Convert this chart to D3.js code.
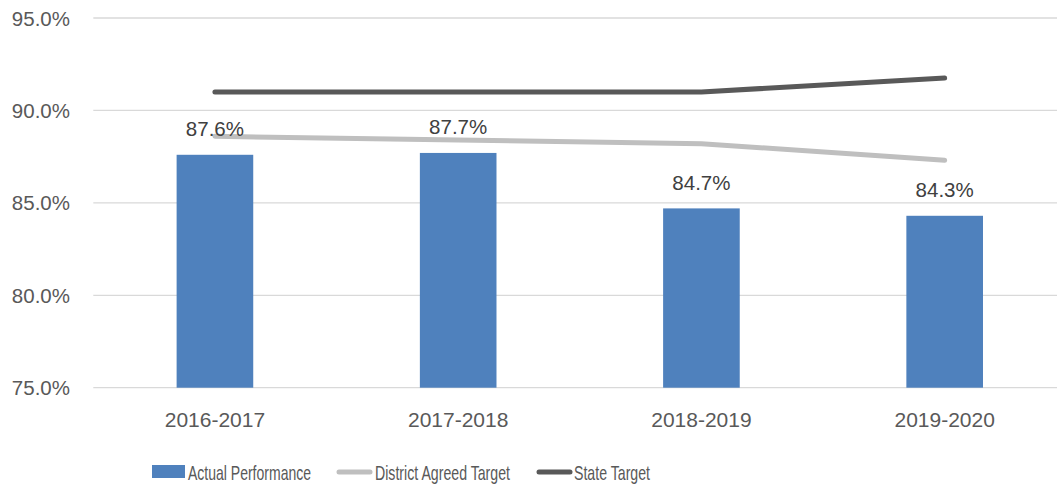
<!DOCTYPE html>
<html lang="en">
<head>
  <meta charset="UTF-8">
  <title>Performance vs Targets</title>
  <script src="https://d3js.org/d3.v7.min.js"></script>
  <style>
    body { margin: 0; background: #fff; }
    svg text { font-family: "Liberation Sans", Arial, sans-serif; fill: #595959; }
    svg text.lg { font-family: "Liberation Sans Narrow", "Liberation Sans", Arial, sans-serif; }
    .grid line { stroke: #d9d9d9; stroke-width: 1.3; }
    .bar { fill: #4f81bd; }
    .val { fill: #404040; }
  </style>
</head>
<body>
<svg width="1057" height="487"></svg>
<script>
  // data
  const years = ["2016-2017", "2017-2018", "2018-2019", "2019-2020"];
  const actual = [87.6, 87.7, 84.7, 84.3];
  const district = [88.6, 88.4, 88.2, 87.3];
  const state = [91.0, 91.0, 91.0, 91.75];
  const yTicks = [75, 80, 85, 90, 95];

  const svg = d3.select("svg");

  const x = d3.scaleBand().domain(years).range([93.3, 1066.3]).padding(0);
  const y = d3.scaleLinear().domain([75, 95]).range([387.7, 18]);
  const barW = x.bandwidth() * 0.315;

  // gridlines
  svg.append("g").attr("class", "grid")
    .selectAll("line").data(yTicks).enter().append("line")
      .attr("x1", 93.3).attr("x2", 1066.3)
      .attr("y1", d => y(d)).attr("y2", d => y(d));

  // y labels
  svg.append("g").selectAll("text").data(yTicks).enter().append("text")
    .attr("x", 70).attr("y", d => y(d) + 7.5)
    .attr("text-anchor", "end").attr("font-size", "20.5px")
    .text(d => d.toFixed(1) + "%");

  // x labels
  svg.append("g").selectAll("text").data(years).enter().append("text")
    .attr("x", d => x(d) + x.bandwidth() / 2).attr("y", 427)
    .attr("text-anchor", "middle").attr("font-size", "21px")
    .text(d => d);

  // bars
  svg.append("g").selectAll("rect").data(actual).enter().append("rect")
    .attr("class", "bar")
    .attr("x", (d, i) => x(years[i]) + (x.bandwidth() - barW) / 2)
    .attr("width", barW)
    .attr("y", d => y(d))
    .attr("height", d => y(75) - y(d));

  // lines
  const line = d3.line()
    .x((d, i) => x(years[i]) + x.bandwidth() / 2)
    .y(d => y(d));

  svg.append("path").datum(district)
    .attr("d", line).attr("fill", "none")
    .attr("stroke", "#bfbfbf").attr("stroke-width", 5)
    .attr("stroke-linecap", "round").attr("stroke-linejoin", "round");

  svg.append("path").datum(state)
    .attr("d", line).attr("fill", "none")
    .attr("stroke", "#595959").attr("stroke-width", 5)
    .attr("stroke-linecap", "round").attr("stroke-linejoin", "round");

  // bar value labels
  svg.append("g").selectAll("text").data(actual).enter().append("text")
    .attr("class", "val")
    .attr("x", (d, i) => x(years[i]) + x.bandwidth() / 2)
    .attr("y", d => y(d) - 18.5)
    .attr("text-anchor", "middle").attr("font-size", "20.5px")
    .text(d => d.toFixed(1) + "%");

  // legend
  const legend = svg.append("g").attr("transform", "translate(0,472)");
  legend.append("rect").attr("x", 152).attr("y", -7).attr("width", 33).attr("height", 13)
    .attr("fill", "#4f81bd");
  legend.append("line").attr("x1", 339).attr("x2", 370).attr("y1", 0).attr("y2", 0)
    .attr("stroke", "#bfbfbf").attr("stroke-width", 5).attr("stroke-linecap", "round");
  legend.append("line").attr("x1", 539).attr("x2", 570).attr("y1", 0).attr("y2", 0)
    .attr("stroke", "#595959").attr("stroke-width", 5).attr("stroke-linecap", "round");

  const items = [
    { t: "Actual Performance", x: 188, w: 123 },
    { t: "District Agreed Target", x: 375, w: 135 },
    { t: "State Target", x: 574, w: 76 }
  ];
  legend.selectAll("text.lg").data(items).enter().append("text")
    .attr("class", "lg")
    .attr("x", d => d.x).attr("y", 7.5)
    .attr("font-size", "21px")
    .attr("textLength", d => d.w).attr("lengthAdjust", "spacingAndGlyphs")
    .text(d => d.t);
</script>
</body>
</html>
